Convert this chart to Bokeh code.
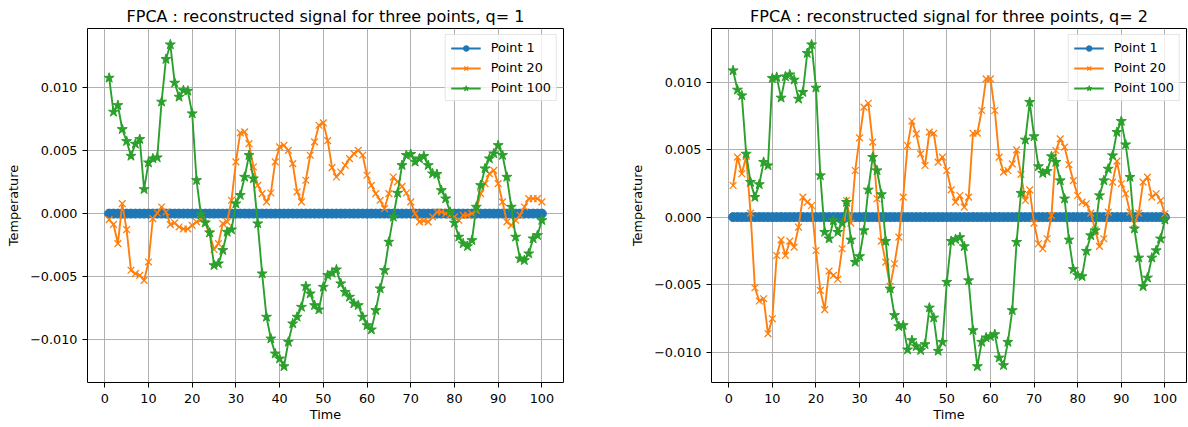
from bokeh.plotting import figure
from bokeh.layouts import row
from bokeh.models import Range1d, FixedTicker, CustomJSTickFormatter, Legend, LegendItem
from bokeh.embed import file_html
from bokeh.resources import INLINE

# ---------------- data ----------------
time = list(range(1, 101))

titles = ["FPCA : reconstructed signal for three points, q= 1",
          "FPCA : reconstructed signal for three points, q= 2"]
series_names = ["Point 1", "Point 20", "Point 100"]

x_ticks = [0, 10, 20, 30, 40, 50, 60, 70, 80, 90, 100]
y_ticks = [-0.010, -0.005, 0.0, 0.005, 0.010]

# q = 1
q1_point1 = [0.0, 0.0, 0.0, 0.0, 0.0, 0.0, 0.0, 0.0, 0.0, 0.0, 0.0, 0.0, 0.0, 0.0, 0.0, 0.0, 0.0, 0.0, 0.0, 0.0,
             0.0, 0.0, 0.0, 0.0, 0.0, 0.0, 0.0, 0.0, 0.0, 0.0, 0.0, 0.0, 0.0, 0.0, 0.0, 0.0, 0.0, 0.0, 0.0, 0.0,
             0.0, 0.0, 0.0, 0.0, 0.0, 0.0, 0.0, 0.0, 0.0, 0.0, 0.0, 0.0, 0.0, 0.0, 0.0, 0.0, 0.0, 0.0, 0.0, 0.0,
             0.0, 0.0, 0.0, 0.0, 0.0, 0.0, 0.0, 0.0, 0.0, 0.0, 0.0, 0.0, 0.0, 0.0, 0.0, 0.0, 0.0, 0.0, 0.0, 0.0,
             0.0, 0.0, 0.0, 0.0, 0.0, 0.0, 0.0, 0.0, 0.0, 0.0, 0.0, 0.0, 0.0, 0.0, 0.0, 0.0, 0.0, 0.0, 0.0, 0.0]
q1_point20 = [-0.00048, -0.00085, -0.00238, 0.00079, -0.00127, -0.00450, -0.00477, -0.00490, -0.00530, -0.00384,
              -0.00040, 0.00005, 0.00053, 0.00013, -0.00087, -0.00074, -0.00106, -0.00122, -0.00122, -0.00093,
              -0.00066, -0.00048, -0.00080, -0.00160, -0.00285, -0.00238, -0.00079, -0.00066, 0.00106, 0.00411,
              0.00641, 0.00649, 0.00556, 0.00371, 0.00225, 0.00159, 0.00093, 0.00164, 0.00411, 0.00530,
              0.00543, 0.00503, 0.00397, 0.00172, 0.00093, 0.00265, 0.00464, 0.00570, 0.00702, 0.00721,
              0.00580, 0.00365, 0.00291, 0.00331, 0.00384, 0.00437, 0.00477, 0.00503, 0.00464, 0.00305,
              0.00225, 0.00159, 0.00106, 0.00040, 0.00159, 0.00291, 0.00252, 0.00217, 0.00164, 0.00093,
              0.00000, -0.00066, -0.00058, -0.00066, -0.00026, 0.00013, 0.00013, 0.00000, -0.00013, -0.00026,
              -0.00053, -0.00013, -0.00013, 0.00000, 0.00026, 0.00159, 0.00238, 0.00318, 0.00344, 0.00238,
              0.00093, -0.00066, -0.00093, -0.00053, -0.00013, 0.00053, 0.00119, 0.00119, 0.00119, 0.00093]
q1_point100 = [0.01078, 0.00808, 0.00861, 0.00670, 0.00575, 0.00458, 0.00554, 0.00591, 0.00193, 0.00405,
               0.00437, 0.00445, 0.00888, 0.01227, 0.01343, 0.01039, 0.00927, 0.00980, 0.00975, 0.00795,
               0.00265, -0.00008, -0.00072, -0.00151, -0.00411, -0.00397, -0.00291, -0.00146, -0.00127, 0.00079,
               0.00146, 0.00291, 0.00464, 0.00278, -0.00079, -0.00477, -0.00821, -0.00994, -0.01113, -0.01153,
               -0.01214, -0.01020, -0.00874, -0.00821, -0.00742, -0.00578, -0.00636, -0.00729, -0.00763, -0.00583,
               -0.00490, -0.00472, -0.00445, -0.00556, -0.00623, -0.00662, -0.00715, -0.00729, -0.00821, -0.00888,
               -0.00922, -0.00768, -0.00596, -0.00450, -0.00225, -0.00026, 0.00164, 0.00384, 0.00464, 0.00472,
               0.00411, 0.00437, 0.00456, 0.00384, 0.00318, 0.00313, 0.00185, 0.00119, 0.00013, -0.00074,
               -0.00185, -0.00238, -0.00260, -0.00212, 0.00053, 0.00225, 0.00358, 0.00437, 0.00477, 0.00543,
               0.00464, 0.00291, 0.00053, -0.00185, -0.00358, -0.00371, -0.00318, -0.00199, -0.00172, -0.00053]

# q = 2
q2_point1 = [0.0, 0.0, 0.0, 0.0, 0.0, 0.0, 0.0, 0.0, 0.0, 0.0, 0.0, 0.0, 0.0, 0.0, 0.0, 0.0, 0.0, 0.0, 0.0, 0.0,
             0.0, 0.0, 0.0, 0.0, 0.0, 0.0, 0.0, 0.0, 0.0, 0.0, 0.0, 0.0, 0.0, 0.0, 0.0, 0.0, 0.0, 0.0, 0.0, 0.0,
             0.0, 0.0, 0.0, 0.0, 0.0, 0.0, 0.0, 0.0, 0.0, 0.0, 0.0, 0.0, 0.0, 0.0, 0.0, 0.0, 0.0, 0.0, 0.0, 0.0,
             0.0, 0.0, 0.0, 0.0, 0.0, 0.0, 0.0, 0.0, 0.0, 0.0, 0.0, 0.0, 0.0, 0.0, 0.0, 0.0, 0.0, 0.0, 0.0, 0.0,
             0.0, 0.0, 0.0, 0.0, 0.0, 0.0, 0.0, 0.0, 0.0, 0.0, 0.0, 0.0, 0.0, 0.0, 0.0, 0.0, 0.0, 0.0, 0.0, 0.0]
q2_point20 = [0.00234, 0.00444, 0.00321, 0.00449, 0.00030, -0.00523, -0.00621, -0.00604, -0.00863, -0.00752,
              -0.00284, -0.00168, -0.00284, -0.00178, -0.00222, -0.00074, 0.00148, 0.00111, 0.00086, -0.00247,
              -0.00542, -0.00685, -0.00399, -0.00431, -0.00460, -0.00234, 0.00123, -0.00044, 0.00345, 0.00587,
              0.00814, 0.00843, 0.00555, 0.00136, -0.00178, -0.00333, -0.00513, -0.00345, -0.00148, 0.00148,
              0.00530, 0.00710, 0.00616, 0.00468, 0.00382, 0.00629, 0.00621, 0.00407, 0.00444, 0.00345,
              0.00202, 0.00111, 0.00160, 0.00074, 0.00148, 0.00621, 0.00621, 0.00789, 0.01023, 0.01023,
              0.00789, 0.00444, 0.00333, 0.00345, 0.00394, 0.00498, 0.00316, 0.00123, 0.00202, -0.00044,
              -0.00197, -0.00234, -0.00160, 0.00012, 0.00493, 0.00579, 0.00518, 0.00388, 0.00270, 0.00160,
              0.00111, 0.00099, 0.00030, -0.00094, -0.00217, -0.00160, 0.00037, 0.00259, 0.00414, 0.00247,
              0.00173, 0.00037, -0.00049, 0.00030, 0.00259, 0.00296, 0.00148, 0.00173, 0.00123, 0.00025]
q2_point100 = [0.01085, 0.00942, 0.00900, 0.00468, 0.00259, 0.00148, 0.00242, 0.00407, 0.00382, 0.01028,
               0.01036, 0.00883, 0.01040, 0.01055, 0.01016, 0.00875, 0.00925, 0.01213, 0.01277, 0.00957,
               0.00308, -0.00111, -0.00160, -0.00025, -0.00111, -0.00044, 0.00111, -0.00168, -0.00333, -0.00291,
               -0.00099, 0.00202, 0.00444, 0.00345, 0.00168, -0.00178, -0.00530, -0.00727, -0.00809, -0.00801,
               -0.00981, -0.00912, -0.00957, -0.00986, -0.00942, -0.00671, -0.00745, -0.00991, -0.00925, -0.00481,
               -0.00178, -0.00164, -0.00150, -0.00217, -0.00469, -0.00838, -0.01105, -0.00925, -0.00892, -0.00883,
               -0.00868, -0.01041, -0.01097, -0.00925, -0.00690, -0.00185, 0.00178, 0.00572, 0.00851, 0.00597,
               0.00375, 0.00325, 0.00340, 0.00449, 0.00407, 0.00271, 0.00136, -0.00168, -0.00386, -0.00431,
               -0.00439, -0.00251, -0.00136, -0.00099, 0.00160, 0.00271, 0.00357, 0.00456, 0.00629, 0.00710,
               0.00537, 0.00296, -0.00086, -0.00301, -0.00513, -0.00449, -0.00301, -0.00247, -0.00160, -0.00020]

colors = ["#1f77b4", "#ff7f0e", "#2ca02c"]
FONT = "DejaVu Sans"


def make_panel(title, s1, s20, s100, width, border_left, border_right):
    all_vals = s1 + s20 + s100
    lo, hi = min(all_vals), max(all_vals)
    ypad = 0.05 * (hi - lo)
    xpad = 0.05 * (max(time) - min(time))
    p = figure(width=width, height=427, output_backend="svg", toolbar_location=None,
               x_range=Range1d(min(time) - xpad, max(time) + xpad),
               y_range=Range1d(lo - ypad, hi + ypad),
               min_border_left=border_left, min_border_right=border_right,
               min_border_top=28, min_border_bottom=45)
    p.background_fill_color = "white"
    p.border_fill_color = "white"
    p.outline_line_color = "black"
    p.outline_line_width = 1
    p.outline_line_alpha = 1

    p.title.text = title
    p.title.align = "center"
    p.title.text_font = FONT
    p.title.text_font_size = "16px"
    p.title.text_font_style = "normal"
    p.title.text_color = "black"
    p.title.standoff = 6

    p.xaxis.ticker = FixedTicker(ticks=x_ticks)
    p.yaxis.ticker = FixedTicker(ticks=y_ticks)
    p.yaxis.formatter = CustomJSTickFormatter(
        code="return (tick < -1e-12 ? '\u2212' : '') + Math.abs(tick).toFixed(3);")
    for ax in (p.xaxis, p.yaxis):
        ax.axis_line_color = None
        ax.major_tick_line_color = "black"
        ax.major_tick_line_width = 1
        ax.major_tick_in = 0
        ax.major_tick_out = 5
        ax.minor_tick_line_color = None
        ax.major_label_text_font = FONT
        ax.major_label_text_font_size = "12.8px"
        ax.major_label_text_color = "black"
        ax.axis_label_text_font = FONT
        ax.axis_label_text_font_size = "12.8px"
        ax.axis_label_text_font_style = "normal"
        ax.axis_label_text_color = "black"
    p.xaxis.axis_label = "Time"
    p.xaxis.major_label_standoff = 6
    p.xaxis.axis_label_standoff = 1
    p.yaxis.axis_label = "Temperature"
    p.yaxis.major_label_standoff = 5
    p.yaxis.axis_label_standoff = 6

    p.xgrid.grid_line_color = "#b0b0b0"
    p.ygrid.grid_line_color = "#b0b0b0"
    p.xgrid.grid_line_width = 1
    p.ygrid.grid_line_width = 1

    items = []
    l1 = p.line(time, s1, line_color=colors[0], line_width=1.9)
    m1 = p.scatter(time, s1, marker="circle", size=9, fill_color=colors[0], line_color=colors[0])
    items.append(LegendItem(label=series_names[0], renderers=[l1, m1]))
    l2 = p.line(time, s20, line_color=colors[1], line_width=1.9)
    m2 = p.scatter(time, s20, marker="x", size=9.5, line_color=colors[1], line_width=1.3)
    items.append(LegendItem(label=series_names[1], renderers=[l2, m2]))
    l3 = p.line(time, s100, line_color=colors[2], line_width=1.9)
    m3 = p.scatter(time, s100, marker="star", size=10.5, fill_color=colors[2], line_color=colors[2])
    items.append(LegendItem(label=series_names[2], renderers=[l3, m3]))

    legend = Legend(items=items, location="top_right", margin=6, padding=5, spacing=5,
                    glyph_height=14, glyph_width=30, label_height=14, label_standoff=10,
                    label_text_font=FONT, label_text_font_size="12.8px", label_text_color="black",
                    border_line_color="#cccccc", border_line_width=1,
                    background_fill_color="white", background_fill_alpha=0.8)
    p.add_layout(legend)
    return p


p_left = make_panel(titles[0], q1_point1, q1_point20, q1_point100, 600, 87, 37)
p_right = make_panel(titles[1], q2_point1, q2_point20, q2_point100, 588, 111, 2)

layout = row(p_left, p_right)
open("out.html", "w").write(file_html(layout, INLINE))
